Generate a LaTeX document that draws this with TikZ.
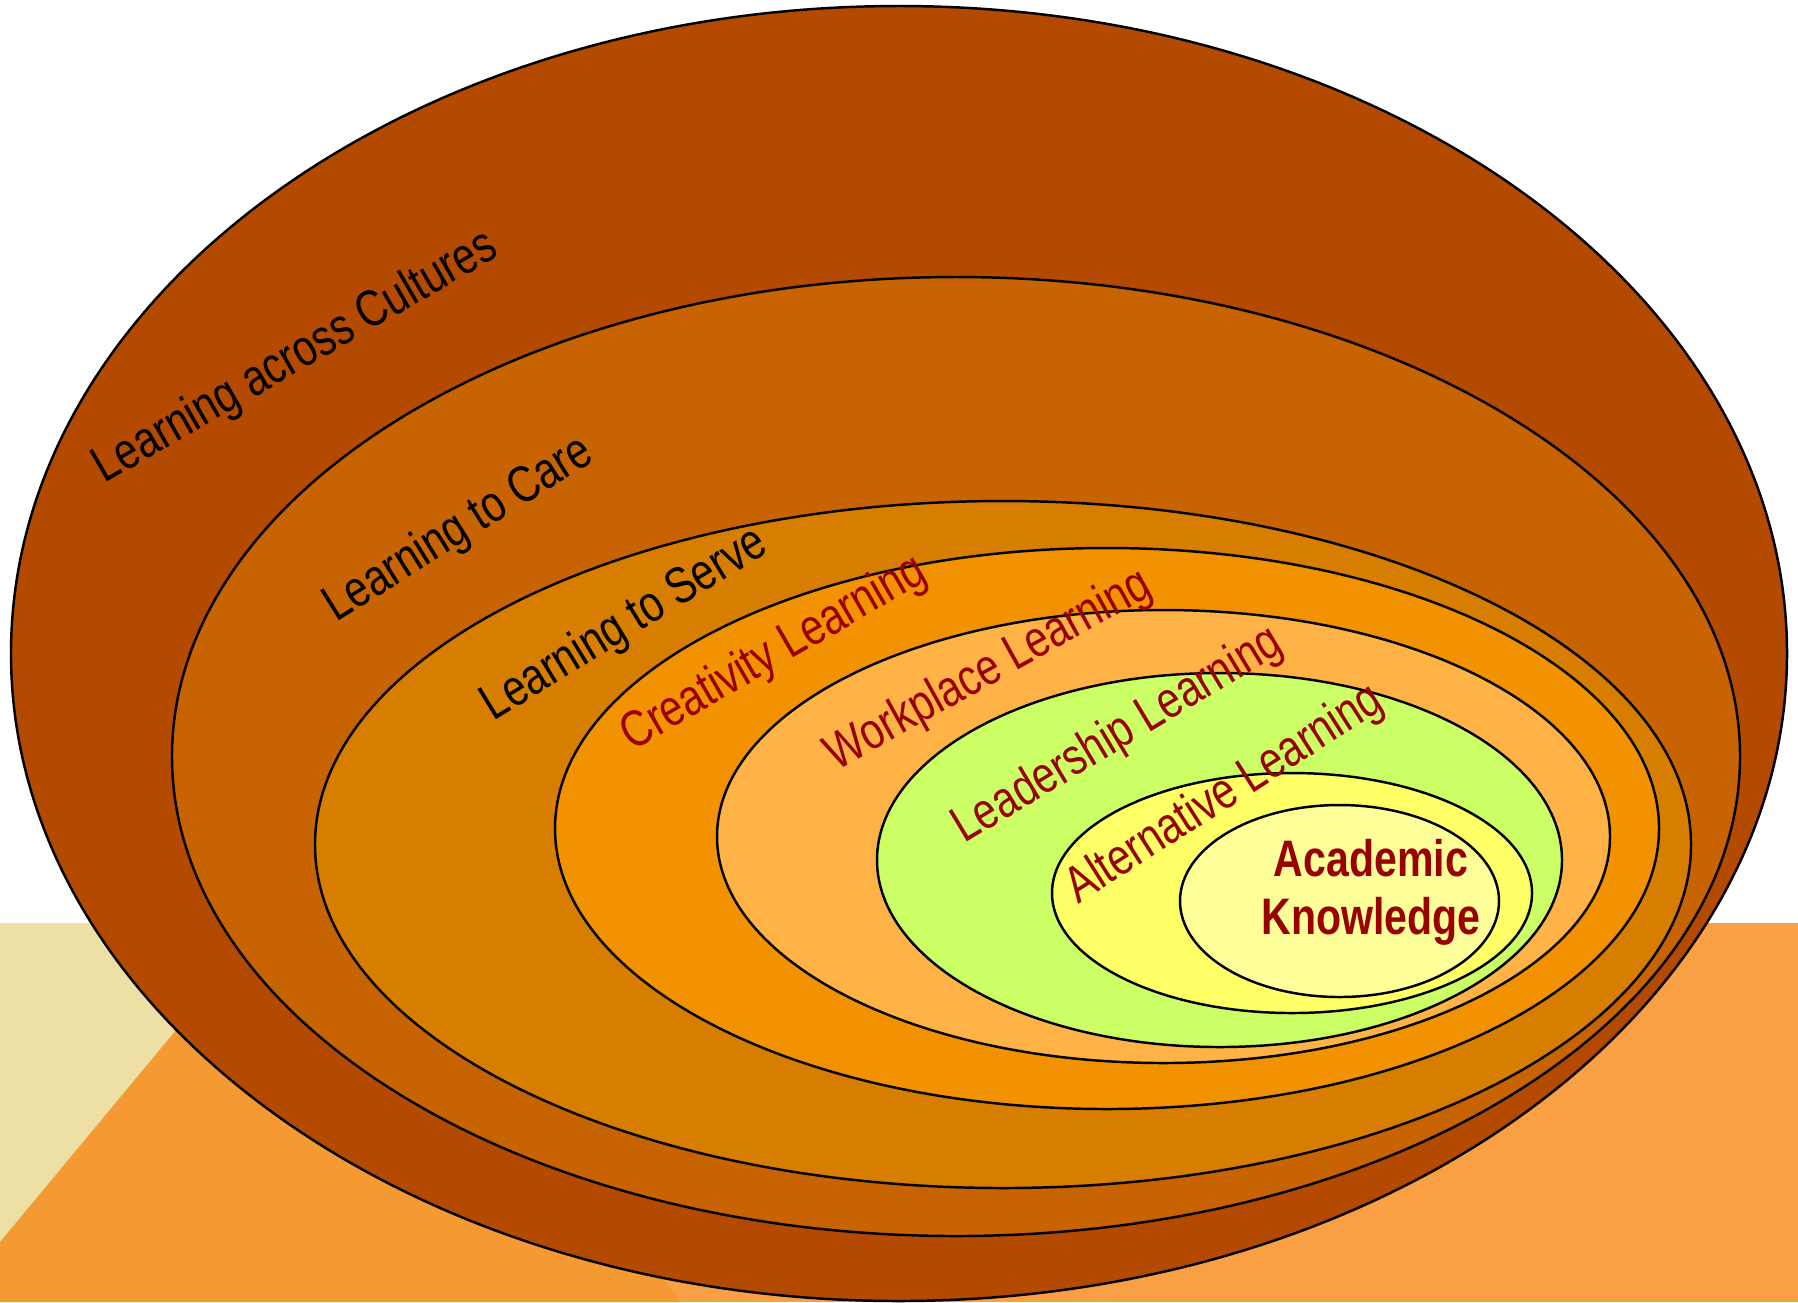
\documentclass[tikz,border=0pt]{standalone}
\usepackage{fontspec}
\newfontfamily\labelfont{Liberation Sans}[FakeStretch=0.8]
\usepackage{tikz}
\definecolor{sand}{HTML}{EEE0A4}
\definecolor{peach}{HTML}{F9A045}
\definecolor{tangerine}{HTML}{F59A33}
\definecolor{rustA}{HTML}{B34A00}
\definecolor{rustB}{HTML}{C76300}
\definecolor{rustC}{HTML}{D77E00}
\definecolor{amber}{HTML}{F39200}
\definecolor{apricot}{HTML}{FFB347}
\definecolor{lime}{HTML}{CCFF66}
\definecolor{lemon}{HTML}{FFFF66}
\definecolor{cream}{HTML}{FFFF99}
\definecolor{maroon}{HTML}{990000}
\tikzset
{
    ring/.style       = {draw=black, line width=0.7pt},
    ringlabel/.style  = {font=\labelfont\fontsize{14.6}{17}\selectfont, inner sep=0pt},
    corelabel/.style  = {font=\labelfont\bfseries\fontsize{14.6}{16.4}\selectfont, align=center, text=maroon, inner sep=0pt}
}

\begin{document}
\begin{tikzpicture}[x=0.01cm, y=-0.01cm]
	\useasboundingbox (0,0) rectangle (1798,1302);
	% floor behind the rings
	\fill[white] (0,0) rectangle (1798,1302);
	\fill[sand] (0,923) rectangle (411,1302);
	\fill[peach] (411,923) rectangle (1798,1302);
	\fill[tangerine] (0,1242) -- (265,923) -- (411,923) -- (680,1302) -- (0,1302) -- cycle;
	% rings, outside in
	\draw[ring, fill=rustA]   (899,653.5)  ellipse [x radius=888, y radius=647.5];
	\draw[ring, fill=rustB]   (956,756.5)  ellipse [x radius=784, y radius=479.5];
	\draw[ring, fill=rustC]   (1003,844.5) ellipse [x radius=688, y radius=343.5];
	\draw[ring, fill=amber]   (1107,828.5) ellipse [x radius=552, y radius=280.5];
	\draw[ring, fill=apricot] (1163.5,836.5) ellipse [x radius=446.5, y radius=226.5];
	\draw[ring, fill=lime]    (1219.5,860) ellipse [x radius=342.5, y radius=187];
	\draw[ring, fill=lemon]   (1292,893)   ellipse [x radius=240, y radius=120];
	\draw[ring, fill=cream]   (1339.5,901) ellipse [x radius=159.5, y radius=96];
	% labels
	\node[ringlabel, rotate=30]              (cultures)    at (296,358) {Learning across Cultures};
	\node[ringlabel, rotate=32]              (care)        at (459,530) {Learning to Care};
	\node[ringlabel, rotate=31.5]            (serve)       at (625,625) {Learning to Serve};
	\node[ringlabel, rotate=30, text=maroon] (creativity)  at (774,654) {Creativity Learning};
	\node[ringlabel, rotate=29, text=maroon] (workplace)   at (989,671) {Workplace Learning};
	\node[ringlabel, rotate=31, text=maroon] (leadership)  at (1118,736) {Leadership Learning};
	\node[ringlabel, rotate=32.5, text=maroon] (alternative) at (1225,795) {Alternative Learning};
	\node[corelabel]                         (academic)    at (1371,892) {Academic\\Knowledge};
\end{tikzpicture}
\end{document}
